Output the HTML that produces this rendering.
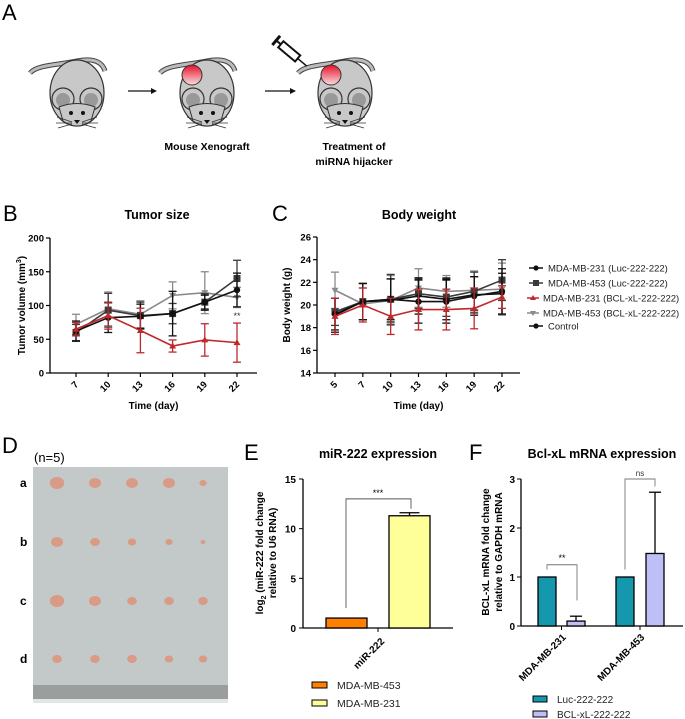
<!DOCTYPE html>
<html><head><meta charset="utf-8">
<style>
body{margin:0;background:#fff;}
svg{display:block;font-family:"Liberation Sans",Arial,sans-serif;}
.t{font-weight:bold;}
</style></head>
<body>
<svg id="fig" width="685" height="719" viewBox="0 0 685 719" xmlns="http://www.w3.org/2000/svg">
<defs>
<linearGradient id="tum" x1="0" y1="0" x2="0" y2="1"><stop offset="0" stop-color="#e8102a"/><stop offset="1" stop-color="#f7dede"/></linearGradient>
<g id="mouse">
<path d="M-47,-22 C-40,-30 -20,-30 0,-34 C15,-37 25,-34 28,-24" fill="none" stroke="#444" stroke-width="5"/>
<path d="M-47,-22 C-40,-30 -20,-30 0,-34 C15,-37 25,-34 28,-24" fill="none" stroke="#bbb" stroke-width="3"/>
<ellipse cx="0" cy="-2" rx="27" ry="33" fill="#c8c8c8" stroke="#333" stroke-width="1.2"/>
<circle cx="-14" cy="4" r="11" fill="#c8c8c8" stroke="#333" stroke-width="1.2"/>
<circle cx="14" cy="4" r="11" fill="#c8c8c8" stroke="#333" stroke-width="1.2"/>
<circle cx="-14" cy="5" r="7" fill="#999"/>
<circle cx="14" cy="5" r="7" fill="#999"/>
<path d="M-18,12 Q0,5 18,12 L14,26 Q0,36 -14,26 Z" fill="#c8c8c8" stroke="#333" stroke-width="1"/>
<circle cx="-6" cy="18" r="2" fill="#111"/><circle cx="6" cy="18" r="2" fill="#111"/>
<path d="M-3,25 L3,25 L0,29 Z" fill="#111"/>
<path d="M-5,27 L-20,22 M-5,28 L-21,28 M-5,29 L-19,33 M5,27 L20,22 M5,28 L21,28 M5,29 L19,33" stroke="#333" stroke-width="0.8"/>
</g>
</defs>

<!-- Panel A -->
<text x="2" y="20" font-size="22">A</text>
<use href="#mouse" x="77" y="95"/>
<use href="#mouse" x="207" y="95"/>
<circle cx="192" cy="75" r="10" fill="url(#tum)" stroke="#333" stroke-width="1"/>
<use href="#mouse" x="345" y="95"/>
<circle cx="331" cy="75" r="10" fill="url(#tum)" stroke="#333" stroke-width="1"/>
<g transform="translate(290,52) rotate(40)">
<rect x="-12" y="-4" width="22" height="8" fill="#fff" stroke="#111" stroke-width="2"/>
<line x1="-18" y1="0" x2="-12" y2="0" stroke="#111" stroke-width="2"/>
<line x1="-18" y1="-6" x2="-18" y2="6" stroke="#111" stroke-width="3"/>
<line x1="10" y1="0" x2="22" y2="0" stroke="#111" stroke-width="1.5"/>
</g>
<g><line x1="128" y1="91" x2="153" y2="91" stroke="#111" stroke-width="1.2"/><path d="M157,91 L151,88 L151,94Z" fill="#111"/></g>
<g><line x1="265" y1="91" x2="292" y2="91" stroke="#111" stroke-width="1.2"/><path d="M296,91 L290,88 L290,94Z" fill="#111"/></g>
<text class="t" x="207" y="150" font-size="10.5" text-anchor="middle">Mouse Xenograft</text>
<text class="t" x="354" y="150" font-size="10.5" text-anchor="middle">Treatment of</text>
<text class="t" x="354" y="165" font-size="10.5" text-anchor="middle">miRNA hijacker</text>

<!-- Panel labels -->
<text x="3" y="221" font-size="22">B</text>
<text x="272" y="221" font-size="22">C</text>
<text x="2" y="453" font-size="22">D</text>
<text x="244" y="460" font-size="22">E</text>
<text x="469" y="460" font-size="22">F</text>

<!-- Panel D photo -->
<text x="34" y="462" font-size="13">(n=5)</text>
<rect x="33" y="467" width="195" height="236" fill="#c3c9c8"/>
<rect x="33" y="685" width="195" height="14" fill="#9a9e9c"/>
<rect x="33" y="699" width="195" height="4" fill="#e4e6e4"/>
<g id="tumors"></g>
<g class="t" font-size="12">
<text x="20" y="487">a</text>
<text x="20" y="546">b</text>
<text x="20" y="605">c</text>
<text x="20" y="663">d</text>
</g>
<g id="charts"></g>
</svg>
<script>
const NS='http://www.w3.org/2000/svg';
const svg=document.getElementById('charts');
function el(tag,attrs,parent,txt){const e=document.createElementNS(NS,tag);for(const k in attrs)e.setAttribute(k,attrs[k]);if(txt!==undefined)e.textContent=txt;(parent||svg).appendChild(e);return e;}

// tumor photo blobs
const tumorSizes=[[6,5,5,5,3],[5,4,3.5,3,2],[6,5,4,4,4],[4,4,4,3.5,3.5]];
const tumorCols=[57,95,132,169,203], tumorRows=[483,542,601,659];
const tg=document.getElementById('tumors');
tumorSizes.forEach((row,r)=>row.forEach((s,c)=>{
 const e=el('ellipse',{cx:tumorCols[c],cy:tumorRows[r],rx:s*1.2,ry:s,fill:'#d99a86'},tg);
 
 
}));

// ---- Panel B data ----
const bDays=[7,10,13,16,19,22];
const bLucBlack=[62,82,84,88,105,123];
const bLucBlackErr=[15,22,18,33,12,25];
const bLucSq=[60,93,85,88,105,140];
const bLucSqErr=[12,25,20,15,10,27];
const bBclRed=[65,85,63,40,49,45];
const bBclRedErr=[10,20,33,9,24,29];
const bBclGray=[72,95,87,115,119,112];
const bBclGrayErr=[15,25,20,20,31,15];
const bYTicks=[0,50,100,150,200];

// ---- Panel C data ----
const cDays=[5,7,10,13,16,19,22];
const cLucBlack=[19.2,20.3,20.5,20.3,20.3,20.8,21.2];
const cLucBlackErr=[1.4,1.6,1.8,1.9,1.9,1.7,2.0];
const cLucSq=[19.4,20.3,20.5,21.0,20.7,21.2,22.2];
const cLucSqErr=[1.2,1.6,2.2,1.3,1.7,1.7,1.8];
const cBclRed=[19.0,20.0,19.0,19.6,19.6,19.7,20.7];
const cBclRedErr=[1.6,1.5,1.6,1.8,1.8,1.8,1.0];
const cBclGray=[21.3,20.1,20.4,21.5,21.2,21.3,21.4];
const cBclGrayErr=[1.6,1.4,2.2,1.7,1.4,1.7,2.3];
const cCtrl=[19.1,20.3,20.4,20.8,20.5,20.9,21.0];
const cCtrlErr=[1.5,1.6,1.9,1.6,1.8,1.6,1.8];
const cYTicks=[14,16,18,20,22,24,26];

// ---- Panel E data ----
const eCats=['MDA-MB-453','MDA-MB-231'];
const eVals=[1.0,11.3];
const eErr=[0,0.3];
const eYTicks=[0,5,10,15];

// ---- Panel F data ----
const fGroups=['MDA-MB-231','MDA-MB-453'];
const fLuc=[1.0,1.0];
const fBcl=[0.1,1.48];
const fBclErr=[0.1,1.25];
const fYTicks=[0,1,2,3];

function lineChart(o){
 const g=el('g',{});
 
 
 const xs=d=>o.x0+(o.xCats.indexOf(d))*(o.x1-o.x0)/(o.xCats.length-1);
 const ys=v=>o.yb-(v-o.ymin)/(o.ymax-o.ymin)*(o.yb-o.yt);
 el('line',{x1:o.ax,y1:o.yt,x2:o.ax,y2:o.yb,stroke:'#000','stroke-width':1.3},g);
 el('line',{x1:o.ax,y1:o.yb,x2:o.axEnd,y2:o.yb,stroke:'#000','stroke-width':1.3},g);
 o.yTicks.forEach(t=>{const y=ys(t);el('line',{x1:o.ax-4,y1:y,x2:o.ax,y2:y,stroke:'#000','stroke-width':1.2},g);
  const tx=el('text',{x:o.ax-6,y:y+3.5,'font-size':9.5,'font-weight':'bold','text-anchor':'end'},g,t);
  
  });
 o.xCats.forEach(d=>{const x=xs(d);el('line',{x1:x,y1:o.yb,x2:x,y2:o.yb+4,stroke:'#000','stroke-width':1.2},g);
  const tx=el('text',{x:x+3,y:o.yb+12,'font-size':9.5,'font-weight':'bold','text-anchor':'end',transform:`rotate(-45 ${x+3} ${o.yb+12})`},g,d);
  
  });
 o.series.forEach(s=>{
  const sg=el('g',{},g);
  
  
  s.v.forEach((v,i)=>{const x=xs(o.xCats[i]);
   el('line',{x1:x,y1:ys(v-s.e[i]),x2:x,y2:ys(v+s.e[i]),stroke:s.c,'stroke-width':1.3},sg);
   el('line',{x1:x-4,y1:ys(v-s.e[i]),x2:x+4,y2:ys(v-s.e[i]),stroke:s.c,'stroke-width':1.3},sg);
   el('line',{x1:x-4,y1:ys(v+s.e[i]),x2:x+4,y2:ys(v+s.e[i]),stroke:s.c,'stroke-width':1.3},sg);});
  el('polyline',{points:s.v.map((v,i)=>xs(o.xCats[i])+','+ys(v)).join(' '),fill:'none',stroke:s.c,'stroke-width':1.6},sg);
  s.v.forEach((v,i)=>{const x=xs(o.xCats[i]),y=ys(v);
   let m;
   if(s.m==='sq')m=el('rect',{x:x-3.5,y:y-3.5,width:7,height:7,fill:s.c},sg);
   else if(s.m==='tri')m=el('path',{d:`M${x},${y-3.5}L${x+3.5},${y+2.5}L${x-3.5},${y+2.5}Z`,fill:s.c},sg);
   else if(s.m==='itri')m=el('path',{d:`M${x},${y+3.5}L${x+3.5},${y-2.5}L${x-3.5},${y-2.5}Z`,fill:s.c},sg);
   else if(s.m==='dia')m=el('path',{d:`M${x},${y-3}L${x+3},${y}L${x},${y+3}L${x-3},${y}Z`,fill:s.c},sg);
   else m=el('circle',{cx:x,cy:y,r:3.2,fill:s.c},sg);
   
   });
 });
 const ti=el('text',{x:o.titleX,y:o.titleY,'font-size':12.5,'font-weight':'bold','text-anchor':'middle'},g,o.title);
 
 
 const xl=el('text',{x:(o.ax+o.axEnd)/2,y:o.yb+36,'font-size':10,'font-weight':'bold','text-anchor':'middle'},g,'Time (day)');
 
 
 const yc=(o.yt+o.yb)/2;
 const yl=el('text',{x:o.ylx,y:yc,'font-size':10,'font-weight':'bold','text-anchor':'middle',transform:`rotate(-90 ${o.ylx} ${yc})`},g);
 
 
 if(o.sup){yl.appendChild(document.createTextNode(o.ylabel));el('tspan',{'font-size':7,dy:-4},yl,o.sup);el('tspan',{dy:4},yl,')');}
 else yl.textContent=o.ylabel;
 return {g,xs,ys};
}

const B=lineChart({name:'tumor-size-chart',xCats:bDays,x0:76,x1:237,ax:50,axEnd:257,yt:238,yb:373,ymin:0,ymax:200,yTicks:bYTicks,
 title:'Tumor size',titleX:157,titleY:219,ylx:25,ylabel:'Tumor volume (mm',sup:'3',
 series:[
  {name:'series-453-bcl',v:bBclGray,e:bBclGrayErr,c:'#8a8a8a',m:'itri'},
  {name:'series-453-luc',v:bLucSq,e:bLucSqErr,c:'#3a3a3a',m:'sq'},
  {name:'series-231-luc',v:bLucBlack,e:bLucBlackErr,c:'#111',m:'circ'},
  {name:'series-231-bcl',v:bBclRed,e:bBclRedErr,c:'#c0282b',m:'tri'}]});
const sigB=el('text',{x:B.xs(22),y:B.ys(bBclRed[5]+bBclRedErr[5])-4,'font-size':9,'text-anchor':'middle',fill:'#333'},B.g,'**');



const C=lineChart({name:'body-weight-chart',xCats:cDays,x0:335,x1:502,ax:317,axEnd:520,yt:237,yb:373,ymin:14,ymax:26,yTicks:cYTicks,
 title:'Body weight',titleX:419,titleY:219,ylx:290,ylabel:'Body weight (g)',
 series:[
  {name:'series-453-bcl',v:cBclGray,e:cBclGrayErr,c:'#8a8a8a',m:'itri'},
  {name:'series-453-luc',v:cLucSq,e:cLucSqErr,c:'#3a3a3a',m:'sq'},
  {name:'series-control',v:cCtrl,e:cCtrlErr,c:'#111',m:'dia'},
  {name:'series-231-luc',v:cLucBlack,e:cLucBlackErr,c:'#111',m:'circ'},
  {name:'series-231-bcl',v:cBclRed,e:cBclRedErr,c:'#c0282b',m:'tri'}]});

// legend C
const legC=[['MDA-MB-231 (Luc-222-222)','#111','circ'],['MDA-MB-453 (Luc-222-222)','#3a3a3a','sq'],['MDA-MB-231 (BCL-xL-222-222)','#c0282b','tri'],['MDA-MB-453 (BCL-xL-222-222)','#8a8a8a','itri'],['Control','#111','dia']];
const legY=[268,283,298,313,326];
legC.forEach((L,i)=>{const g=el('g',{});
 
 
 const y=legY[i];
 const narrow=(i===2||i===3);
 el('line',{x1:narrow?527:529,y1:y,x2:narrow?539:543,y2:y,stroke:L[1],'stroke-width':1.5},g);
 const mx=narrow?533:536;
 if(L[2]==='sq')el('rect',{x:mx-3,y:y-3,width:6,height:6,fill:L[1]},g);
 else if(L[2]==='tri')el('path',{d:`M${mx},${y-3}L${mx+3},${y+2}L${mx-3},${y+2}Z`,fill:L[1]},g);
 else if(L[2]==='itri')el('path',{d:`M${mx},${y+3}L${mx+3},${y-2}L${mx-3},${y-2}Z`,fill:L[1]},g);
 else el('circle',{cx:mx,cy:y,r:2.6,fill:L[1]},g);
 el('text',{x:narrow?543:548,y:y+3.5,'font-size':9.5,fill:'#222'},g,L[0]);
});

// Panel E
(function(){
 const g=el('g',{});
 
 
 const ax=303,yt=479,yb=628,axEnd=453,ymax=15;
 const ys=v=>yb-v/ymax*(yb-yt);
 const bx=[326,389],bw=41,cols=['#ff7f00','#ffff99'];
 el('line',{x1:ax,y1:yt,x2:ax,y2:yb,stroke:'#000','stroke-width':1.3},g);
 el('line',{x1:ax,y1:yb,x2:axEnd,y2:yb,stroke:'#000','stroke-width':1.3},g);
 eYTicks.forEach(t=>{el('line',{x1:ax-4,y1:ys(t),x2:ax,y2:ys(t),stroke:'#000'},g);
  const tx=el('text',{x:ax-7,y:ys(t)+4,'font-size':10,'font-weight':'bold','text-anchor':'end'},g,t);
  
  });
 el('line',{x1:378,y1:yb,x2:378,y2:yb+4,stroke:'#000'},g);
 eVals.forEach((v,i)=>{
  if(eErr[i]>0){el('line',{x1:bx[i]+bw/2,y1:ys(v),x2:bx[i]+bw/2,y2:ys(v+eErr[i]),stroke:'#000','stroke-width':1.3},g);
   el('line',{x1:bx[i]+bw/2-10,y1:ys(v+eErr[i]),x2:bx[i]+bw/2+10,y2:ys(v+eErr[i]),stroke:'#000','stroke-width':1.3},g);}
  const r=el('rect',{x:bx[i],y:ys(v),width:bw,height:yb-ys(v),fill:cols[i],stroke:'#000','stroke-width':1.3},g);
  
  
 });
 el('path',{d:`M346,${ys(2)} V${ys(13)} H411 V${ys(12)}`,fill:'none',stroke:'#555','stroke-width':0.9},g);
 const s=el('text',{x:378,y:ys(13)-3,'font-size':9,'text-anchor':'middle'},g,'***');
 
 
 const xl=el('text',{x:385,y:642,'font-size':10,'font-weight':'bold','text-anchor':'end',transform:'rotate(-45 385 642)'},g,'miR-222');
 
 
 const ti=el('text',{x:378,y:458,'font-size':12.5,'font-weight':'bold','text-anchor':'middle'},g,'miR-222 expression');
 
 
 const yl=el('text',{x:263,y:553,'font-size':10,'font-weight':'bold','text-anchor':'middle',transform:'rotate(-90 263 553)'},g);
 
 
 yl.appendChild(document.createTextNode('log'));el('tspan',{'font-size':7,dy:3},yl,'2');el('tspan',{dy:-3},yl,' (miR-222 fold change');
 const yl2=el('text',{x:276,y:553,'font-size':10,'font-weight':'bold','text-anchor':'middle',transform:'rotate(-90 276 553)'},g,'relative to U6 RNA)');
 
 
 eCats.forEach((c,i)=>{const lg=el('g',{},g);
  
  
  const y=[685,703][i];
  el('rect',{x:312,y:y-3,width:15,height:6,fill:cols[i],stroke:'#000','stroke-width':1},lg);
  el('text',{x:337,y:y+4,'font-size':10.5,fill:'#222'},lg,c);});
})();

// Panel F
(function(){
 const g=el('g',{});
 
 
 const ax=521,yt=479,yb=626,axEnd=683,ymax=3;
 const ys=v=>yb-v/ymax*(yb-yt);
 const lucX=[538,616],bclX=[567,646],bw=18;
 el('line',{x1:ax,y1:yt,x2:ax,y2:yb,stroke:'#000','stroke-width':1.3},g);
 el('line',{x1:ax,y1:yb,x2:axEnd,y2:yb,stroke:'#000','stroke-width':1.3},g);
 fYTicks.forEach(t=>{el('line',{x1:ax-4,y1:ys(t),x2:ax,y2:ys(t),stroke:'#000'},g);
  const tx=el('text',{x:ax-6,y:ys(t)+4,'font-size':10,'font-weight':'bold','text-anchor':'end'},g,t);
  
  });
 fGroups.forEach((grp,i)=>{
  const cx=(lucX[i]+bclX[i]+bw)/2;
  el('line',{x1:cx,y1:yb,x2:cx,y2:yb+4,stroke:'#000'},g);
  const xl=el('text',{x:cx+5,y:yb+12,'font-size':10,'font-weight':'bold','text-anchor':'end',transform:`rotate(-45 ${cx+5} ${yb+12})`},g,grp);
  
  
  const r1=el('rect',{x:lucX[i],y:ys(fLuc[i]),width:bw,height:yb-ys(fLuc[i]),fill:'#1597ae',stroke:'#000','stroke-width':1.3},g);
  
  
  const bxm=bclX[i]+bw/2, top=ys(fBcl[i]+fBclErr[i]);
  el('line',{x1:bxm,y1:ys(fBcl[i]),x2:bxm,y2:top,stroke:'#000','stroke-width':1.3},g);
  el('line',{x1:bxm-6,y1:top,x2:bxm+6,y2:top,stroke:'#000','stroke-width':1.3},g);
  const r2=el('rect',{x:bclX[i],y:ys(fBcl[i]),width:bw,height:yb-ys(fBcl[i]),fill:'#bfbff7',stroke:'#000','stroke-width':1.3},g);
  
  
 });
 el('path',{d:`M547,${ys(1.15)} V${ys(1.25)} H577 V${ys(0.52)}`,fill:'none',stroke:'#777','stroke-width':0.9},g);
 el('path',{d:`M625,${ys(1.15)} V${ys(3)} H655 V${ys(2.85)}`,fill:'none',stroke:'#777','stroke-width':0.9},g);
 const s1=el('text',{x:562,y:ys(1.25)-4,'font-size':9,'text-anchor':'middle'},g,'**');
 
 
 const s2=el('text',{x:640,y:ys(3)-3,'font-size':8,'text-anchor':'middle',fill:'#333'},g,'ns');
 
 
 const ti=el('text',{x:602,y:458,'font-size':12.5,'font-weight':'bold','text-anchor':'middle'},g,'Bcl-xL mRNA expression');
 
 
 const yl=el('text',{x:489,y:552,'font-size':10,'font-weight':'bold','text-anchor':'middle',transform:'rotate(-90 489 552)'},g,'BCL-xL mRNA fold change');
 
 
 const yl2=el('text',{x:502,y:552,'font-size':10,'font-weight':'bold','text-anchor':'middle',transform:'rotate(-90 502 552)'},g,'relative to GAPDH mRNA');
 
 
 [['Luc-222-222','#1597ae',699],['BCL-xL-222-222','#bfbff7',714]].forEach(L=>{const lg=el('g',{},g);
  
  
  el('rect',{x:533,y:L[2]-3,width:14,height:6,fill:L[1],stroke:'#000','stroke-width':1},lg);
  el('text',{x:557,y:L[2]+4,'font-size':10,fill:'#222'},lg,L[0]);});
})();
</script>
</body></html>
